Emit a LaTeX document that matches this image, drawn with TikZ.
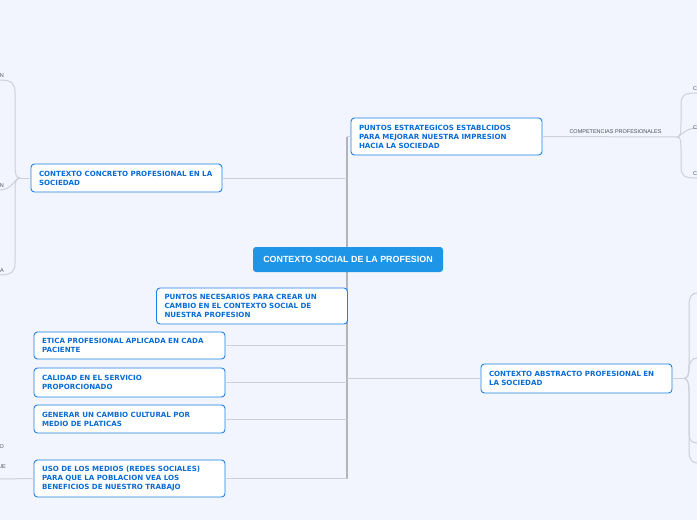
\documentclass[tikz,border=0pt]{standalone}
\usepackage{fontspec}
\newfontfamily\boxfont{DejaVu Sans}
\newfontfamily\lbfont{Liberation Sans}
\definecolor{bg}{HTML}{F2F5FD}
\definecolor{nodeblue}{HTML}{1C82E8}
\definecolor{textblue}{HTML}{096CD6}
\definecolor{central}{HTML}{1F95E8}
\definecolor{linegray}{HTML}{CDD0D8}
\definecolor{trunkgray}{HTML}{B2B4BA}
\definecolor{labelgray}{HTML}{4A4F58}
\begin{document}
\begin{tikzpicture}[x=1pt,y=-1pt,
  topic/.style={draw=nodeblue, line width=0.9pt, fill=white, rounded corners=3.5pt,
    text width=175pt, align=left, inner xsep=8pt, inner ysep=0pt,
    font=\boxfont\bfseries\fontsize{7.1}{9}\selectfont, text=textblue,
    minimum width=191pt},
  centre/.style={fill=central, rounded corners=3pt, text=white,
    font=\lbfont\bfseries\fontsize{8.9}{10}\selectfont,
    minimum width=190pt, minimum height=25pt, inner sep=0pt},
  conn/.style={draw=linegray, line width=1pt},
  trunk/.style={draw=trunkgray, line width=1.4pt},
  small/.style={font=\lbfont\fontsize{5.5}{6}\selectfont, text=labelgray, inner sep=0.5pt}
]
\useasboundingbox[fill=bg] (0,0) rectangle (697,520);

% trunk
\coordinate (ttop) at (347,137);
\coordinate (tbot) at (347,479);
\draw[trunk] (ttop) -- (tbot);

% central
\node[centre] (C) at (348,259.5) {CONTEXTO SOCIAL DE LA PROFESION};

% nodes
\node[topic, minimum height=37pt] (PE) at (446.5,136.5) {PUNTOS ESTRATEGICOS ESTABLCIDOS\\PARA MEJORAR NUESTRA IMPRESION\\HACIA LA SOCIEDAD};
\node[topic, minimum height=28pt] (CC) at (126.5,178) {CONTEXTO CONCRETO PROFESIONAL EN LA\\SOCIEDAD};
\node[topic, minimum height=36pt, minimum width=190pt] (PN) at (252,306) {PUNTOS NECESARIOS PARA CREAR UN\\CAMBIO EN EL CONTEXTO SOCIAL DE\\NUESTRA PROFESION};
\node[topic, minimum height=27pt] (ET) at (129.5,345.5) {ETICA PROFESIONAL APLICADA EN CADA\\PACIENTE};
\node[topic, minimum height=29pt] (CA) at (129.5,382.5) {CALIDAD EN EL SERVICIO\\PROPORCIONADO};
\node[topic, minimum height=28pt] (GE) at (129.5,419) {GENERAR UN CAMBIO CULTURAL POR\\MEDIO DE PLATICAS};
\node[topic, minimum height=37pt] (US) at (129.5,478.5) {USO DE LOS MEDIOS (REDES SOCIALES)\\PARA QUE LA POBLACION VEA LOS\\BENEFICIOS DE NUESTRO TRABAJO};
\node[topic, minimum height=29pt] (AB) at (576.5,378.5) {CONTEXTO ABSTRACTO PROFESIONAL EN\\LA SOCIEDAD};

% connectors to trunk
\draw[conn] (PE.west) -- (PE.west -| ttop);
\draw[conn] (CC.east) -- (CC.east -| ttop);
\draw[conn] (ET.east) -- (ET.east -| ttop);
\draw[conn] (CA.east) -- (CA.east -| ttop);
\draw[conn] (GE.east) -- (GE.east -| ttop);
\draw[conn] (US.east) -- (US.east -| ttop);
\draw[conn] (AB.west) -- (AB.west -| ttop);

% right of PE
\node[small] (CP) at (615.5,132) {COMPETENCIAS PROFESIONALES};
\coordinate (pj) at (677,137);
\draw[conn] (PE.east) -- (pj);
\coordinate (pe1) at (697,93);
\coordinate (pe2) at (697,128);
\coordinate (pe3) at (697,178);
\draw[conn] (pj) .. controls (681,137) and (681,132) .. (681,120) -- (681,105) .. controls (681,95) and (684,93) .. (pe1);
\draw[conn] (pj) .. controls (682,135) and (686,128) .. (pe2);
\draw[conn] (pj) .. controls (681,137) and (681,142) .. (681,150) -- (681,166) .. controls (681,176) and (684,178) .. (pe3);
\node[small, anchor=south west] (c1) at (692.5,91) {C};
\node[small, anchor=south west] (c2) at (692.5,130) {C};
\node[small, anchor=south west] (c3) at (692.5,176) {C};

% left of CC
\coordinate (cj) at (20,178);
\draw[conn] (CC.west) -- (cj);
\coordinate (cl1) at (0,80);
\coordinate (cl2) at (0,190);
\coordinate (cl3) at (0,275);
\draw[conn] (cj) .. controls (16,178) and (15,174) .. (15,165) -- (15,92) .. controls (15,84) and (12,80) .. (cl1);
\draw[conn] (cj) .. controls (15,178) and (12,190) .. (cl2);
\draw[conn] (cj) .. controls (16,178) and (15,182) .. (15,190) -- (15,263) .. controls (15,271) and (12,275) .. (cl3);
\node[small, anchor=south east] (n1) at (4.5,78) {N};
\node[small, anchor=south east] (n2) at (4.5,188) {N};
\node[small, anchor=south east] (n3) at (4.5,273) {A};

% left of US
\coordinate (ul) at (0,479);
\draw[conn] (US.west) -- (ul);
\node[small, anchor=east] (u1) at (4.5,447) {O};
\node[small, anchor=east] (u2) at (6.5,467) {UE};

% right of AB
\coordinate (aj) at (684,378.5);
\draw[conn] (AB.east) -- (aj);
\coordinate (ar1) at (697,293);
\coordinate (ar2) at (697,358);
\coordinate (ar3) at (697,443);
\coordinate (ar4) at (697,463);
\draw[conn] (aj) .. controls (688,378.5) and (689,373) .. (689,365) -- (689,305) .. controls (689,297) and (692,293) .. (ar1);
\draw[conn] (aj) .. controls (688,378.5) and (689,374) .. (689,370) .. controls (689,362) and (692,358) .. (ar2);
\draw[conn] (aj) .. controls (688,378.5) and (689,384) .. (689,392) -- (689,433) .. controls (689,440) and (692,443) .. (ar3);
\draw[conn] (aj) .. controls (688,378.5) and (689,384) .. (689,392) -- (689,452) .. controls (689,459) and (692,463) .. (ar4);
\end{tikzpicture}
\end{document}
